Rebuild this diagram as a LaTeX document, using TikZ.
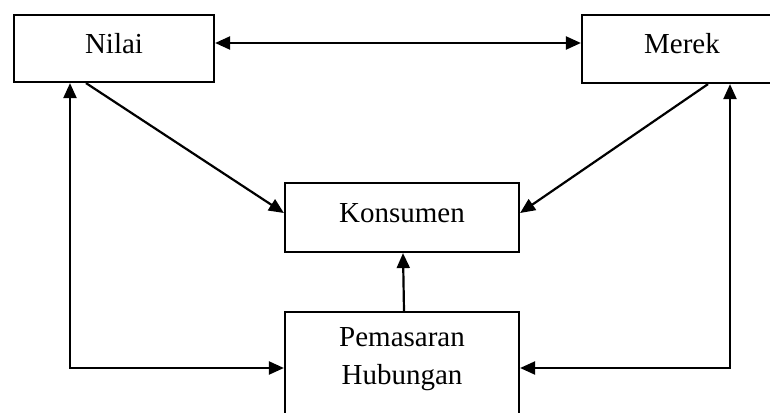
\documentclass[tikz,border=0pt]{standalone}
\usepackage{fontspec}
\setmainfont{Liberation Serif}
\usetikzlibrary{arrows.meta,calc}
\begin{document}
\begin{tikzpicture}[x=0.5pt,y=-0.5pt,
  line width=1.1pt,
  box/.style={draw,line width=1.1pt,inner sep=0pt,font=\fontsize{14.5pt}{19pt}\selectfont,text height=9.5pt,text depth=5pt,align=center},
  arr/.style={-{Triangle[length=7.5pt,width=6.5pt]}},
  darr/.style={{Triangle[length=7.5pt,width=6.5pt]}-{Triangle[length=7.5pt,width=6.5pt]}},
  lbl/.style={inner sep=0pt,font=\fontsize{14.5pt}{19pt}\selectfont,align=center}]
\useasboundingbox (0,0) rectangle (770,412);
\node[box,minimum width=100pt,minimum height=33.5pt] (nilai) at (114,48.5) {Nilai};
\node[box,minimum width=100pt,minimum height=34pt] (merek) at (682,49) {Merek};
\node[box,minimum width=117pt,minimum height=34.5pt] (kons) at (402,217.5) {Konsumen};
\node[draw,line width=1.1pt,inner sep=0pt,minimum width=117pt,minimum height=60pt,anchor=north] (pem) at (402,311) {};
\node[lbl] (pemtext) at (402,359) {Pemasaran\\Hubungan};
\draw[darr] ($(nilai.east)+(0,-5.5)$) -- ($(merek.west)+(0,-6)$);
\draw[arr] ($(nilai.south)+(-28,0)$) -- ($(kons.west)+(0,-4.5)$);
\draw[arr] ($(merek.south)+(26,0)$) -- ($(kons.east)+(0,-4.5)$);
\draw[arr] ($(pem.north)+(2,0)$) -- ($(kons.south)+(1,0)$);
\draw[darr] ($(nilai.south)+(-44,0)$) |- ($(pem.north west)+(0,57)$);
\draw[darr] ($(merek.south)+(48,0)$) |- ($(pem.north east)+(0,57)$);
\end{tikzpicture}
\end{document}
